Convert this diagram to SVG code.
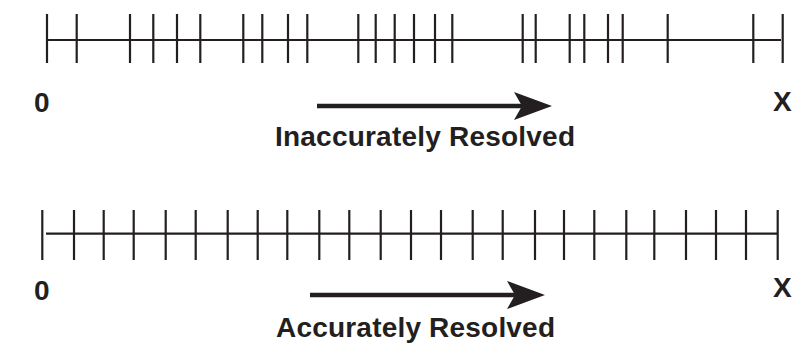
<svg xmlns="http://www.w3.org/2000/svg" width="805" height="344" viewBox="0 0 805 344">
<style>
.ln{stroke:#231f20;stroke-width:2.2;fill:none}
.tk{stroke:#231f20;stroke-width:2.2}
.ar{stroke:#231f20;stroke-width:4.5;fill:none}
.hd{fill:#231f20}
.lbl{font-family:"Liberation Sans",Arial,sans-serif;font-weight:bold;font-size:28px;fill:#231f20}
.cap{font-family:"Liberation Sans",Arial,sans-serif;font-weight:bold;font-size:28px;fill:#231f20}
</style>
<g id="connectors">
<g id="top-axis">
<line class="ln" x1="47" y1="40" x2="781" y2="40"/>
<g class="tk">
<line x1="47" y1="14" x2="47" y2="63"/>
<line x1="76.7" y1="14" x2="76.7" y2="63"/>
<line x1="130" y1="14" x2="130" y2="63"/>
<line x1="153.3" y1="14" x2="153.3" y2="63"/>
<line x1="177" y1="14" x2="177" y2="63"/>
<line x1="200.3" y1="14" x2="200.3" y2="63"/>
<line x1="243.3" y1="14" x2="243.3" y2="63"/>
<line x1="262.3" y1="14" x2="262.3" y2="63"/>
<line x1="288" y1="14" x2="288" y2="63"/>
<line x1="307.3" y1="14" x2="307.3" y2="63"/>
<line x1="358.3" y1="14" x2="358.3" y2="63"/>
<line x1="375.7" y1="14" x2="375.7" y2="63"/>
<line x1="394.7" y1="14" x2="394.7" y2="63"/>
<line x1="414" y1="14" x2="414" y2="63"/>
<line x1="435" y1="14" x2="435" y2="63"/>
<line x1="452.3" y1="14" x2="452.3" y2="63"/>
<line x1="522.7" y1="14" x2="522.7" y2="63"/>
<line x1="535.7" y1="14" x2="535.7" y2="63"/>
<line x1="569.7" y1="14" x2="569.7" y2="63"/>
<line x1="584.3" y1="14" x2="584.3" y2="63"/>
<line x1="608" y1="14" x2="608" y2="63"/>
<line x1="622.7" y1="14" x2="622.7" y2="63"/>
<line x1="667.7" y1="14" x2="667.7" y2="63"/>
<line x1="753.3" y1="14" x2="753.3" y2="63"/>
<line x1="782.7" y1="14" x2="782.7" y2="63"/>
</g>
</g>
<g id="bottom-axis">
<line class="ln" x1="46" y1="233.7" x2="778" y2="233.7"/>
<g class="tk">
<line x1="42.3" y1="210" x2="42.3" y2="260"/>
<line x1="74" y1="210" x2="74" y2="260"/>
<line x1="103.7" y1="210" x2="103.7" y2="260"/>
<line x1="133.7" y1="210" x2="133.7" y2="260"/>
<line x1="165.7" y1="210" x2="165.7" y2="260"/>
<line x1="195.7" y1="210" x2="195.7" y2="260"/>
<line x1="227.7" y1="210" x2="227.7" y2="260"/>
<line x1="257.7" y1="210" x2="257.7" y2="260"/>
<line x1="287.3" y1="210" x2="287.3" y2="260"/>
<line x1="319.3" y1="210" x2="319.3" y2="260"/>
<line x1="349.3" y1="210" x2="349.3" y2="260"/>
<line x1="380.7" y1="210" x2="380.7" y2="260"/>
<line x1="411" y1="210" x2="411" y2="260"/>
<line x1="441" y1="210" x2="441" y2="260"/>
<line x1="472.7" y1="210" x2="472.7" y2="260"/>
<line x1="502.7" y1="210" x2="502.7" y2="260"/>
<line x1="535" y1="210" x2="535" y2="260"/>
<line x1="564" y1="210" x2="564" y2="260"/>
<line x1="594.3" y1="210" x2="594.3" y2="260"/>
<line x1="626.3" y1="210" x2="626.3" y2="260"/>
<line x1="654.3" y1="210" x2="654.3" y2="260"/>
<line x1="686" y1="210" x2="686" y2="260"/>
<line x1="716" y1="210" x2="716" y2="260"/>
<line x1="746" y1="210" x2="746" y2="260"/>
<line x1="777.7" y1="210" x2="777.7" y2="260"/>
</g>
</g>
<g id="top-arrow">
<line class="ar" x1="317" y1="106" x2="525" y2="106"/>
<path class="hd" d="M514 92 L552 106 L514 120 L522 106 Z"/>
</g>
<g id="bottom-arrow">
<line class="ar" x1="310" y1="295" x2="518" y2="295"/>
<path class="hd" d="M507 281 L545 295 L507 309 L515 295 Z"/>
</g>
</g>
<g id="top-labels">
<text class="lbl" x="34" y="112">0</text>
<text class="lbl" x="773" y="111">X</text>
<text class="cap" x="275" y="146" textLength="300" lengthAdjust="spacing">Inaccurately Resolved</text>
</g>
<g id="bottom-labels">
<text class="lbl" x="34" y="300">0</text>
<text class="lbl" x="773" y="297">X</text>
<text class="cap" x="276" y="337" textLength="279" lengthAdjust="spacing">Accurately Resolved</text>
</g>
</svg>
